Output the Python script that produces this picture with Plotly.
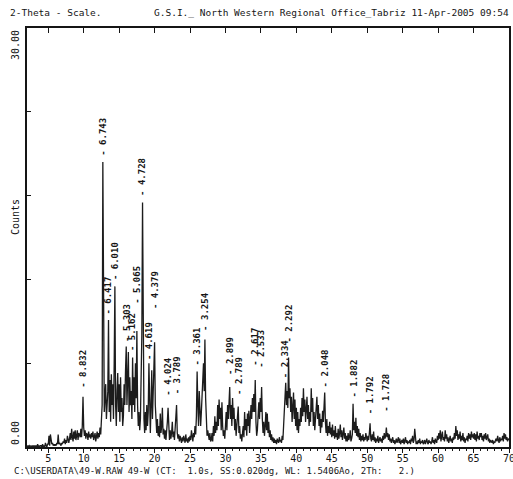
import numpy as np
import plotly.graph_objects as go

# ---------------- data ----------------
two_theta_start = 2.0
two_theta_step = 0.1

# counts, one row per degree (N.0 ... N.9), 2..69, then 70.0
counts_rows = [
    [0.1,0.0,0.1,0.0,0.1,0.0,0.0,0.1,0.0,0.1],   # 2
    [0.0,0.1,0.0,0.1,0.0,0.2,0.0,0.1,0.0,0.1],   # 3
    [0.1,0.0,0.2,0.0,0.1,0.0,0.3,0.1,0.0,0.2],   # 4
    [0.2,0.8,0.1,0.9,0.2,0.2,0.3,0.1,0.2,0.1],   # 5
    [0.2,0.1,0.3,0.2,0.9,0.2,0.3,0.2,0.1,0.3],   # 6
    [0.2,0.4,0.3,0.6,0.2,0.5,0.3,0.8,0.4,0.3],   # 7
    [0.6,1.0,0.5,1.3,0.7,0.4,1.1,0.6,1.2,0.5],   # 8
    [0.8,1.2,0.5,1.0,0.9,0.7,1.3,0.7,1.5,3.6],   # 9
    [1.4,0.8,1.2,0.6,1.0,0.9,0.5,1.1,0.7,0.9],   # 10
    [0.6,1.0,0.7,1.1,0.5,0.9,1.0,0.4,0.8,1.1],   # 11
    [0.6,1.0,0.7,1.4,0.9,1.6,3.0,20.4,5.0,2.5],  # 12
    [3.5,4.5,2.0,3.0,4.0,9.1,2.5,4.8,1.8,5.2],   # 13
    [3.0,4.5,2.0,6.0,11.5,3.0,1.5,4.0,5.3,2.5],  # 14
    [4.5,1.8,5.0,2.5,3.5,1.5,2.2,4.5,3.0,5.5],   # 15
    [7.2,3.0,4.5,6.8,2.5,5.0,3.0,4.0,2.0,6.4],   # 16
    [3.0,5.0,2.5,6.0,3.5,8.3,3.0,1.5,2.5,1.2],   # 17
    [2.0,5.0,8.0,17.5,5.0,2.0,1.0,2.5,1.2,3.0],  # 18
    [1.5,2.5,6.0,2.0,1.0,3.0,5.5,2.0,3.5,5.0],   # 19
    [7.5,3.0,1.5,1.0,2.0,0.8,1.5,0.7,2.4,1.0],   # 20
    [1.5,2.8,0.9,1.3,0.6,1.2,0.5,1.0,1.8,2.8],   # 21
    [1.0,0.5,1.2,0.6,1.0,1.8,0.7,1.1,0.5,1.4],   # 22
    [1.8,3.0,1.0,0.6,0.9,0.4,0.8,0.5,0.3,0.7],   # 23
    [0.4,0.8,0.5,0.3,0.9,0.4,0.6,0.3,0.7,0.4],   # 24
    [0.8,0.5,1.2,0.6,0.4,1.0,0.7,1.5,0.9,2.2],   # 25
    [5.4,3.0,1.5,4.0,2.5,1.5,2.5,3.5,5.0,6.0],   # 26
    [4.0,7.7,3.5,1.5,0.8,1.2,0.6,0.5,1.0,0.4],   # 27
    [0.5,1.0,0.4,1.5,0.8,2.2,1.0,1.8,1.2,3.0],   # 28
    [1.5,3.4,2.0,2.8,1.2,3.2,1.5,0.8,1.2,0.6],   # 29
    [1.5,2.5,1.2,3.0,2.0,3.5,4.3,2.0,3.0,1.5],   # 30
    [3.5,2.0,2.8,1.2,2.0,0.8,1.5,2.0,2.9,1.0],   # 31
    [1.5,0.6,0.9,0.4,0.8,1.5,0.7,2.5,1.2,2.0],   # 32
    [0.8,2.4,1.5,2.6,1.0,1.8,3.0,2.0,3.5,2.5],   # 33
    [3.8,2.5,4.8,1.8,0.8,1.2,2.0,3.2,2.0,3.5],   # 34
    [2.5,4.3,2.0,1.0,1.8,0.8,1.5,2.5,1.2,2.4],   # 35
    [1.0,1.8,0.7,1.2,0.5,0.9,0.4,0.7,0.3,0.6],   # 36
    [0.3,0.5,0.2,0.6,0.4,0.3,0.7,0.4,0.5,0.3],   # 37
    [0.8,0.5,1.5,2.5,3.5,4.6,3.0,4.0,2.8,6.4],   # 38
    [3.5,4.2,2.5,3.6,1.8,3.0,3.9,2.0,3.4,1.5],   # 39
    [2.8,1.2,2.5,1.0,2.0,1.5,2.8,1.8,3.5,2.2],   # 40
    [4.2,2.5,3.4,1.8,2.6,3.6,2.0,3.0,1.5,2.5],   # 41
    [1.8,4.2,2.5,3.5,1.5,2.5,1.2,2.2,3.0,3.6],   # 42
    [2.0,3.0,1.5,2.4,1.0,2.0,1.4,2.6,1.8,3.0],   # 43
    [3.9,1.8,1.0,2.0,0.8,1.5,1.0,1.8,0.9,1.4],   # 44
    [0.7,1.6,0.8,1.2,0.6,1.5,0.7,1.0,0.5,1.3],   # 45
    [0.6,1.0,1.6,0.7,1.2,0.5,0.9,1.4,0.6,1.0],   # 46
    [0.4,0.8,0.4,1.0,0.5,0.7,1.2,0.4,0.6,0.9],   # 47
    [3.1,1.2,1.8,1.0,2.1,0.8,1.5,0.7,1.3,0.5],   # 48
    [1.0,0.4,0.8,0.5,0.9,0.4,0.7,0.5,1.0,0.6],   # 49
    [0.4,0.8,0.5,1.0,1.7,0.6,0.4,0.9,0.5,1.1],   # 50
    [0.4,0.7,0.3,0.6,0.4,0.8,0.3,0.5,0.7,0.4],   # 51
    [0.6,0.3,0.8,0.5,1.0,0.6,0.8,1.4,0.7,1.0],   # 52
    [0.5,0.9,0.4,0.6,0.3,0.5,0.7,0.3,0.5,0.2],   # 53
    [0.4,0.6,0.3,0.5,0.7,0.3,0.6,0.2,0.4,0.5],   # 54
    [0.3,0.6,0.2,0.4,0.7,0.3,0.5,0.2,0.4,0.3],   # 55
    [0.5,0.2,0.6,0.4,0.8,0.3,0.5,1.3,0.4,0.2],   # 56
    [0.4,0.2,0.5,0.3,0.6,0.2,0.4,0.3,0.5,0.2],   # 57
    [0.3,0.5,0.2,0.4,0.6,0.3,0.2,0.5,0.3,0.4],   # 58
    [0.2,0.4,0.7,0.3,0.5,0.2,0.6,0.4,0.3,0.8],   # 59
    [0.5,1.0,0.6,1.2,0.4,0.8,1.1,0.5,0.7,0.4],   # 60
    [1.2,0.6,0.9,0.4,0.7,0.3,0.5,0.8,0.4,0.6],   # 61
    [0.3,0.7,0.5,1.0,0.6,1.5,0.8,1.2,0.5,0.9],   # 62
    [0.6,1.1,0.4,0.8,0.5,1.0,0.4,0.7,0.3,0.6],   # 63
    [0.5,0.8,0.4,1.0,0.6,0.9,0.5,1.1,0.7,0.9],   # 64
    [0.6,1.0,0.5,0.9,0.4,1.1,0.6,0.8,0.5,1.0],   # 65
    [0.7,1.0,0.5,0.8,0.4,0.9,0.6,1.0,0.5,0.7],   # 66
    [0.9,0.4,0.6,0.3,0.5,0.4,0.3,0.5,0.2,0.4],   # 67
    [0.3,0.5,0.6,0.4,0.8,0.5,0.3,0.7,0.4,0.6],   # 68
    [0.5,0.8,0.4,1.0,0.6,0.9,0.5,0.7,0.4,0.6],   # 69
    [0.5],                                        # 70
]

# labelled peaks: position (2-theta), d-spacing text, label base (counts)
peak_2theta = [9.9, 12.7, 13.5, 14.4, 16.0, 16.9, 17.5, 18.3, 19.25, 20.0,
               21.9, 23.1, 26.0, 27.1, 30.6, 31.8, 34.2, 35.1, 38.5, 38.9,
               44.0, 48.0, 50.4, 52.7]
peak_d = ["8.832", "6.743", "6.417", "6.010", "5.303", "5.162", "5.065", "4.728",
          "4.619", "4.379", "4.024", "3.789", "3.361", "3.254", "2.899", "2.789",
          "2.617", "2.533", "2.334", "2.292", "2.048", "1.882", "1.792", "1.728"]
label_base = [4.1, 20.7, 9.3, 11.8, 7.4, 6.7, 10.1, 17.8, 6.1, 9.7,
              3.5, 3.6, 5.7, 8.2, 5.0, 3.6, 5.7, 5.5, 4.8, 7.3,
              4.1, 3.4, 2.2, 2.4]

x_tick_vals = [5, 10, 15, 20, 25, 30, 35, 40, 45, 50, 55, 60, 65, 70]
x_tick_text = ["5", "10", "15", "20", "25", "30", "35", "40", "45", "50", "55", "60", "65", "70"]
y_tick_vals = [0, 6, 12, 18, 24, 30]

header_left = "2-Theta - Scale."
header_right = "G.S.I._ North Western Regional Office_Tabriz 11-Apr-2005 09:54"
footer = "C:\\USERDATA\\49-W.RAW 49-W (CT:  1.0s, SS:0.020dg, WL: 1.5406Ao, 2Th:   2.)"

# ---------------- figure ----------------
counts = [v for row in counts_rows for v in row]
two_theta = np.round(two_theta_start + two_theta_step * np.arange(len(counts)), 2)

MONO = "DejaVu Sans Mono, Liberation Mono, monospace"
INK = "#151515"

fig = go.Figure()
fig.add_trace(go.Scatter(x=two_theta, y=counts, mode="lines",
                         line=dict(color="#1c1c1c", width=1.3), hoverinfo="skip",
                         showlegend=False))
# carrier for the top axis
fig.add_trace(go.Scatter(x=[2, 70], y=[0, 0], xaxis="x2", mode="lines",
                         line=dict(color="rgba(0,0,0,0)"), showlegend=False,
                         hoverinfo="skip"))

annotations = []
for x, t, b in zip(peak_2theta, peak_d, label_base):
    annotations.append(dict(x=x, y=b, xref="x", yref="y", text="<b>- " + t + "</b>",
                            textangle=-90, showarrow=False, xanchor="center",
                            yanchor="bottom",
                            font=dict(family=MONO, size=9, color=INK)))

W, H = 513, 479
L, R, T, B = 27, 4, 28, 32
pw, ph = W - L - R, H - T - B


def px(xp):
    return (xp - L) / pw


def py(yp):
    return (H - B - yp) / ph


annotations += [
    dict(x=px(8), y=py(12), xref="paper", yref="paper", text=header_left,
         showarrow=False, xanchor="left", yanchor="middle",
         font=dict(family=MONO, size=9.5, color=INK)),
    dict(x=px(511), y=py(12), xref="paper", yref="paper", text=header_right,
         showarrow=False, xanchor="right", yanchor="middle",
         font=dict(family=MONO, size=9.5, color=INK)),
    dict(x=px(12), y=py(471), xref="paper", yref="paper", text=footer,
         showarrow=False, xanchor="left", yanchor="middle",
         font=dict(family=MONO, size=9, color=INK)),
    dict(x=px(15), y=1.0, xref="paper", yref="paper", text="30.00",
         textangle=-90, showarrow=False, xanchor="center", yanchor="top",
         font=dict(family=MONO, size=10, color=INK)),
    dict(x=px(15), y=0.0, xref="paper", yref="paper", text="0.00",
         textangle=-90, showarrow=False, xanchor="center", yanchor="bottom",
         font=dict(family=MONO, size=10, color=INK)),
    dict(x=px(15), y=py(217), xref="paper", yref="paper", text="Counts",
         textangle=-90, showarrow=False, xanchor="center", yanchor="middle",
         font=dict(family=MONO, size=10, color=INK)),
]

fig.update_layout(
    width=W, height=H,
    margin=dict(l=L, r=R, t=T, b=B, autoexpand=False),
    paper_bgcolor="white", plot_bgcolor="white",
    showlegend=False,
    annotations=annotations,
    xaxis=dict(range=[2, 70], tickvals=x_tick_vals, ticktext=x_tick_text,
               ticks="outside", ticklen=4, tickcolor=INK, tickwidth=1,
               minor=dict(dtick=1, tick0=0, ticks="outside", ticklen=2,
                          tickcolor=INK, showgrid=False),
               showgrid=False, zeroline=False, showline=True, linecolor=INK,
               linewidth=1.5, mirror=True, ticklabelstandoff=-3,
               ticklabeloverflow="allow", automargin=False,
               tickfont=dict(family=MONO, size=10, color=INK)),
    xaxis2=dict(range=[2, 70], overlaying="x", side="top", matches="x",
                tickvals=x_tick_vals, ticks="inside", ticklen=5,
                tickcolor=INK, showticklabels=False, showgrid=False,
                zeroline=False, showline=False, automargin=False),
    yaxis=dict(range=[0, 30], tickvals=y_tick_vals, ticks="inside", ticklen=4,
               tickcolor=INK, showticklabels=False, showgrid=False,
               zeroline=False, showline=True, linecolor=INK, linewidth=1.5,
               mirror=True, automargin=False),
)

fig.write_html("out.html", config={"displayModeBar": False},
               post_script="document.body.style.margin='0';document.body.style.overflow='hidden';")
